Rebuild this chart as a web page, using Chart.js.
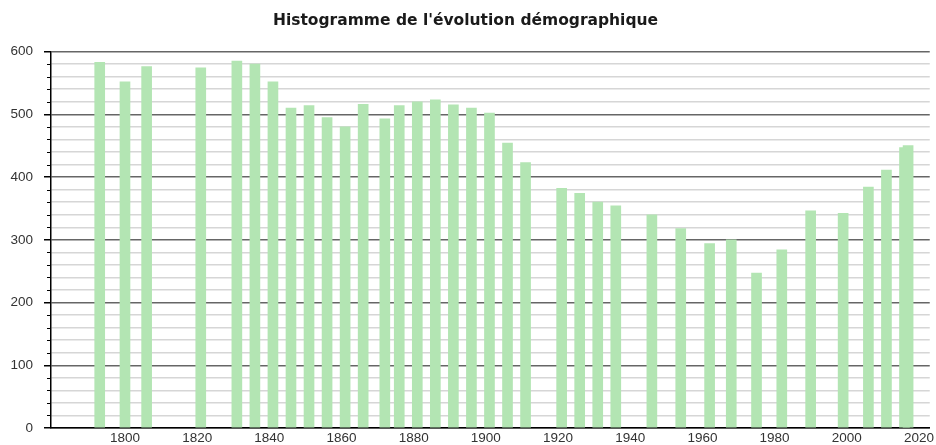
<!DOCTYPE html>
<html>
<head>
<meta charset="utf-8">
<script src="https://cdn.jsdelivr.net/npm/chart.js@4/dist/chart.umd.min.js"></script>
<style>
html,body{margin:0;padding:0;background:#fff;}
</style>
</head>
<body>
<canvas id="chart" width="936" height="445"></canvas>
<script>
// recensements
const years = [1793,1800,1806,1821,1831,1836,1841,1846,1851,1856,1861,1866,1872,1876,1881,1886,1891,1896,1901,1906,1911,1921,1926,1931,1936,1946,1954,1962,1968,1975,1982,1990,1999,2006,2011,2016,2017];
const population = [583,552,576,574,585,580,552,510,514,495,480,516,493,514,520,523,515,510,502,454,423,382,374,360,354,340,318,294,300,247,284,346,342,384,411,447,450];

const xTicks = [1800,1820,1840,1860,1880,1900,1920,1940,1960,1980,2000,2020];
const yTicks = [0,100,200,300,400,500,600];
const yMinor = [20,40,60,80,120,140,160,180,220,240,260,280,320,340,360,380,420,440,460,480,520,540,560,580];

const FONT = "'Liberation Sans', Arial, sans-serif";

// petits traits entre les graduations principales
const minorTicks = {
    id:"minorTicks",
    afterDraw(chart){
        const s = chart.scales.y;
        const c = chart.ctx;
        c.save();
        c.strokeStyle = "#000";
        c.lineWidth = 1;
        yMinor.forEach(v => {
            const p = Math.round(s.getPixelForValue(v)) + 0.5;
            c.beginPath();
            c.moveTo(s.right - 4, p);
            c.lineTo(s.right, p);
            c.stroke();
        });
        c.restore();
    }
};

new Chart(document.getElementById("chart"),{
    type:"bar",
    data:{
        datasets:[{
            data: years.map((y,i) => ({x:y, y:population[i]})),
            backgroundColor:"#b3e5b3",
            borderWidth:0,
            barThickness:10
        }]
    },
    options:{
        responsive:false,
        animation:false,
        devicePixelRatio:1,
        layout:{ padding:{ left:0, right:5, top:0, bottom:0 } },
        plugins:{
            legend:{ display:false },
            tooltip:{ enabled:false },
            title:{
                display:true,
                text:"Histogramme de l'évolution démographique",
                color:"#1a1a1a",
                font:{ family:"'DejaVu Sans', Verdana, sans-serif", size:15.5, weight:"bold" },
                padding:{ top:12, bottom:21 }
            }
        },
        scales:{
            x:{
                type:"linear",
                offset:false,
                min:1779.5,
                max:2023,
                afterBuildTicks: s => { s.ticks = xTicks.map(v => ({value:v})); },
                afterFit: s => { s.height = 17; },
                grid:{ display:false, drawTicks:false },
                border:{ display:true, color:"#000", width:1.5 },
                ticks:{
                    autoSkip:false,
                    maxRotation:0,
                    padding:2,
                    color:"#333",
                    font:{ family:FONT, size:13.5 },
                    callback: v => String(v)
                }
            },
            y:{
                min:0,
                max:600,
                afterBuildTicks: s => {
                    s.ticks = yTicks.concat(yMinor).sort((a,b) => a-b).map(v => ({value:v}));
                },
                afterFit: s => {
                    s.width = 51;
                    s.paddingTop = 8;
                    s.paddingBottom = 8;
                },
                border:{ display:true, color:"#000", width:1.5 },
                grid:{
                    color: c => yTicks.includes(c.tick.value) ? "#666" : "#d6d6d6",
                    lineWidth:1.5,
                    tickLength:7,
                    tickColor: c => yTicks.includes(c.tick.value) ? "#000" : "rgba(0,0,0,0)",
                    tickWidth:1.5
                },
                ticks:{
                    autoSkip:false,
                    padding:11,
                    color:"#333",
                    font:{ family:FONT, size:13.5 },
                    callback: v => yTicks.includes(v) ? String(v) : ""
                }
            }
        }
    },
    plugins:[minorTicks]
});
</script>
</body>
</html>
